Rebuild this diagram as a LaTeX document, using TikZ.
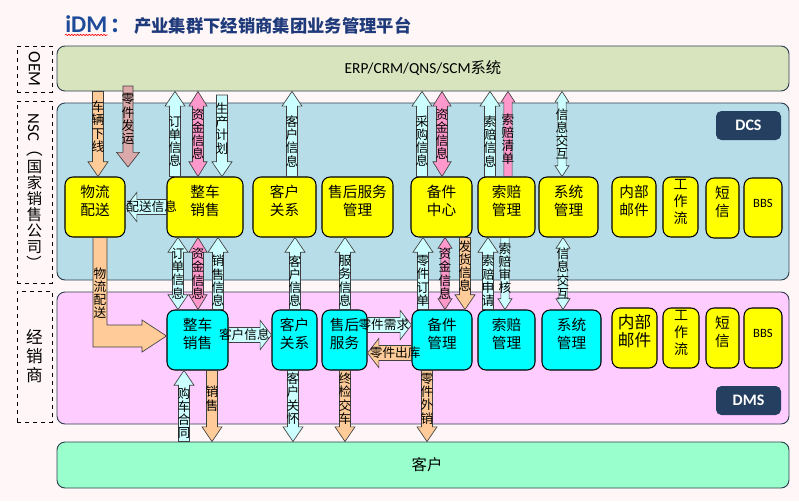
\documentclass[tikz,border=0pt]{standalone}
\usepackage{fontspec}
\usepackage{graphicx}
\setmainfont{Carlito}
\newfontfamily\cjk{Noto Sans CJK SC}
\usetikzlibrary{calc,fit,decorations.pathmorphing}

\definecolor{bgcol}{HTML}{FFF7F7}
\definecolor{oemfill}{HTML}{D7E4BD}
\definecolor{dcsfill}{HTML}{B7DDE8}
\definecolor{dmsfill}{HTML}{FFCCFF}
\definecolor{custfill}{HTML}{99FFCC}
\definecolor{rgnborder}{HTML}{2F3F4F}
\definecolor{badgenavy}{HTML}{243F60}
\definecolor{boxyellow}{HTML}{FFFF00}
\definecolor{boxcyan}{HTML}{00FFFF}
\definecolor{palecyan}{HTML}{CCFFFF}
\definecolor{pinkfill}{HTML}{FF99CC}
\definecolor{peachfill}{HTML}{FFCC99}
\definecolor{rosyfill}{HTML}{DBA9A9}
\definecolor{arrborder}{HTML}{404040}
\definecolor{titleblue}{HTML}{1E4A9A}
\definecolor{titlenavy}{HTML}{1F3A7A}

\newcommand\boxfont{\cjk\fontsize{11}{14}\selectfont}
\newcommand\lblfont{\cjk\fontsize{9.5}{9.9}\selectfont}

\tikzset{bashaft/.store in=\bashaft, bahead/.store in=\bahead, balen/.store in=\balen,
  bashaft=4.1, bahead=7.5, balen=11}

% single block arrow: style, tail, tip, label
\newcommand\sarr[4]{%
 \path[#1] let \p1=#2, \p2=#3, \n1={veclen(\x2-\x1,\y2-\y1)},
   \n2={(\x2-\x1)/\n1}, \n3={(\y2-\y1)/\n1} in
  ({\x1-\bashaft*\n3*1pt},{\y1+\bashaft*\n2*1pt})
  -- ({\x2-\balen*\n2*1pt-\bashaft*\n3*1pt},{\y2-\balen*\n3*1pt+\bashaft*\n2*1pt})
  -- ({\x2-\balen*\n2*1pt-\bahead*\n3*1pt},{\y2-\balen*\n3*1pt+\bahead*\n2*1pt})
  -- (\x2,\y2)
  -- ({\x2-\balen*\n2*1pt+\bahead*\n3*1pt},{\y2-\balen*\n3*1pt-\bahead*\n2*1pt})
  -- ({\x2-\balen*\n2*1pt+\bashaft*\n3*1pt},{\y2-\balen*\n3*1pt-\bashaft*\n2*1pt})
  -- ({\x1+\bashaft*\n3*1pt},{\y1-\bashaft*\n2*1pt}) -- cycle
  node[alabel] at ({(\x1+\x2)/2-\balen*\n2*0.5pt},{(\y1+\y2)/2-\balen*\n3*0.5pt}) {#4};
}
% double block arrow
\newcommand\darr[4]{%
 \path[#1] let \p1=#2, \p2=#3, \n1={veclen(\x2-\x1,\y2-\y1)},
   \n2={(\x2-\x1)/\n1}, \n3={(\y2-\y1)/\n1} in
  (\x1,\y1)
  -- ({\x1+\balen*\n2*1pt-\bahead*\n3*1pt},{\y1+\balen*\n3*1pt+\bahead*\n2*1pt})
  -- ({\x1+\balen*\n2*1pt-\bashaft*\n3*1pt},{\y1+\balen*\n3*1pt+\bashaft*\n2*1pt})
  -- ({\x2-\balen*\n2*1pt-\bashaft*\n3*1pt},{\y2-\balen*\n3*1pt+\bashaft*\n2*1pt})
  -- ({\x2-\balen*\n2*1pt-\bahead*\n3*1pt},{\y2-\balen*\n3*1pt+\bahead*\n2*1pt})
  -- (\x2,\y2)
  -- ({\x2-\balen*\n2*1pt+\bahead*\n3*1pt},{\y2-\balen*\n3*1pt-\bahead*\n2*1pt})
  -- ({\x2-\balen*\n2*1pt+\bashaft*\n3*1pt},{\y2-\balen*\n3*1pt-\bashaft*\n2*1pt})
  -- ({\x1+\balen*\n2*1pt+\bashaft*\n3*1pt},{\y1+\balen*\n3*1pt-\bashaft*\n2*1pt})
  -- ({\x1+\balen*\n2*1pt+\bahead*\n3*1pt},{\y1+\balen*\n3*1pt-\bahead*\n2*1pt})
  -- cycle
  node[alabel] at ({(\x1+\x2)/2},{(\y1+\y2)/2}) {#4};
}

\begin{document}
\begin{tikzpicture}[x=0.75pt,y=-0.75pt,
  region/.style={draw=rgnborder, line width=0.7pt, rounded corners=6pt, inner sep=0pt},
  lbox/.style={draw=black, dashed, line width=0.6pt, inner sep=0pt},
  ybox/.style={draw=black, line width=0.8pt, fill=boxyellow, rounded corners=6pt,
    inner sep=0pt, align=center, font=\boxfont},
  cbox/.style={ybox, fill=boxcyan},
  bbsbox/.style={ybox, font=\fontsize{9.5}{11}\selectfont},
  badge/.style={fill=badgenavy, rounded corners=4pt, inner sep=0pt, text=white,
    font=\bfseries\fontsize{12}{14}\selectfont},
  arr/.style={draw=arrborder, line width=0.5pt},
  paleA/.style={arr, fill=palecyan},
  pinkA/.style={arr, fill=pinkfill},
  peachA/.style={arr, fill=peachfill},
  rosyA/.style={arr, fill=rosyfill},
  thinA/.style={bashaft=3.1, bahead=5.2, balen=8},
  wideA/.style={bashaft=5.6, bahead=11, balen=8.5},
  alabel/.style={text=black, inner sep=0pt, align=center, font=\lblfont}]

\fill[bgcol] (0,0) rectangle (799,501);
\useasboundingbox (0,0) rectangle (799,501);

% title
\node[anchor=base west, inner sep=0pt, text=titleblue, font=\bfseries\fontsize{18}{21}\selectfont] (idm) at (65,32) {iDM};
\node[anchor=base west, inner sep=0pt, text=titleblue, font=\cjk\bfseries\fontsize{15}{18}\selectfont] (colon) at ([xshift=2pt]idm.base east) {：};
\node[anchor=west, inner sep=0pt, text=titlenavy, font=\cjk\bfseries\fontsize{13}{15}\selectfont] (ttl) at (134,26) {产业集群下经销商集团业务管理平台};
\draw[red, line width=0.5pt, decorate, decoration={snake, amplitude=0.45pt, segment length=2.2pt}]
  ([yshift=-2.2pt]idm.base west) -- ([yshift=-2.2pt]idm.base east);

% side labels
\node[lbox, fit={(17,46) (52,92)}] (oeml) {};
\node[font=\fontsize{13}{15}\selectfont, inner sep=0pt] (oemt) at (oeml.center) {\rotatebox[origin=c]{-90}{OEM}};
\node[lbox, fit={(17,101) (52,283)}] (nscl) {};
\node[font=\cjk\fontsize{11.5}{12}\selectfont, inner sep=0pt, align=center] (nsct) at (nscl.center)
  {\rotatebox[origin=c]{-90}{\fontspec{Carlito}\fontsize{12.5}{13}\selectfont NSC\cjk（}\\[1pt]国\\家\\销\\售\\公\\司\\\rotatebox[origin=c]{-90}{）}};
\node[lbox, fit={(17,291) (52,422)}] (jxsl) {};
\node[font=\cjk\fontsize{12.5}{14.3}\selectfont, inner sep=0pt, align=center] (jxst) at (jxsl.center) {经\\销\\商};

% regions
\node[region, fill=oemfill, fit={(57,46) (789,91)}] (oem) {};
\node[font=\fontsize{11.5}{13}\selectfont, inner sep=0pt] (oemtxt) at (oem.center) {ERP/CRM/QNS/SCM{\cjk 系统}};
\node[region, fill=dcsfill, fit={(57,103) (789,280)}] (dcs) {};
\node[region, fill=dmsfill, fit={(57,292) (789,424)}] (dms) {};
\node[region, fill=custfill, fit={(57,442) (789,488)}] (cust) {};
\node[font=\cjk\fontsize{11.5}{13}\selectfont, inner sep=0pt] (custtxt) at ([xshift=3pt]cust.center) {客户};

\node[badge, fit={(716,111) (781,140)}] (dcsb) {};
\node[text=white, font=\bfseries\fontsize{12}{14}\selectfont, inner sep=0pt] at (dcsb.center) {DCS};
\node[badge, fit={(716,386) (781,415)}] (dmsb) {};
\node[text=white, font=\bfseries\fontsize{12}{14}\selectfont, inner sep=0pt] at (dmsb.center) {DMS};

% DCS boxes
\node[ybox, fit={(65,177) (125,237)}] (cwl) {物流\\配送};
\node[ybox, fit={(167,177) (243,237)}] (czc) {整车\\销售};
\node[ybox, fit={(253,177) (316,237)}] (ckh) {客户\\关系};
\node[ybox, fit={(322,177) (393,237)}] (csh) {售后服务\\管理};
\node[ybox, fit={(411,177) (472,237)}] (cbj) {备件\\中心};
\node[ybox, fit={(478,177) (535,237)}] (csp) {索赔\\管理};
\node[ybox, fit={(539,177) (598,237)}] (cxt) {系统\\管理};
\node[ybox, fit={(612,177) (656,237)}] (cnb) {内部\\邮件};
\node[ybox, fit={(663,177) (698,237)}, font=\cjk\fontsize{10.5}{12.5}\selectfont] (cgz) {工\\作\\流};
\node[ybox, fit={(706,178) (739,238)}] (cdx) {短\\信};
\node[bbsbox, fit={(744,178) (782,237)}] (cbbs) {BBS};

% DMS boxes
\node[cbox, fit={(167,310) (228,370)}] (mzc) {整车\\销售};
\node[cbox, fit={(272,310) (317,370)}] (mkh) {客户\\关系};
\node[cbox, fit={(322,310) (367,370)}] (msh) {售后\\服务};
\node[cbox, fit={(412,310) (472,370)}] (mbj) {备件\\管理};
\node[cbox, fit={(478,310) (535,370)}] (msp) {索赔\\管理};
\node[cbox, fit={(542,310) (601,370)}] (mxt) {系统\\管理};
\node[ybox, fit={(612,308) (657,368)}, font=\cjk\fontsize{12.5}{14}\selectfont] (mnb) {内部\\邮件};
\node[ybox, fit={(663,308) (699,368)}, font=\cjk\fontsize{10.5}{12.5}\selectfont] (mgz) {工\\作\\流};
\node[ybox, fit={(706,308) (739,368)}] (mdx) {短\\信};
\node[bbsbox, fit={(744,308) (782,368)}] (mbbs) {BBS};

% ---- arrows: OEM <-> DCS ----
\sarr{peachA}{(98,0 |- oem.south)}{(98,0 |- cwl.north)}{车\\辆\\下\\线}
\coordinate (lfa) at (128,86);
\coordinate (lfb) at (128,167);
\sarr{rosyA, bahead=8.6, bashaft=3.8}{(lfa)}{(lfb)}{零\\件\\发\\运}
\sarr{paleA}{(175,0 |- czc.north)}{(175,0 |- oem.south)}{订\\单\\信\\息}
\darr{pinkA, bahead=6.8}{(198,0 |- czc.north)}{(198,0 |- oem.south)}{资\\金\\信\\息}
\coordinate (scj) at (222,95);
\sarr{paleA}{(scj)}{(222,0 |- czc.north)}{生\\产\\计\\划}
\sarr{paleA}{(292,0 |- ckh.north)}{(292,0 |- oem.south)}{客\\户\\信\\息}
\sarr{paleA}{(422,0 |- cbj.north)}{(422,0 |- oem.south)}{采\\购\\信\\息}
\darr{pinkA, bahead=6.8}{(442,0 |- cbj.north)}{(442,0 |- oem.south)}{资\\金\\信\\息}
\sarr{paleA}{(490,0 |- csp.north)}{(490,0 |- oem.south)}{索\\赔\\信\\息}
\sarr{pinkA, thinA}{(508,0 |- csp.north)}{(508,0 |- oem.south)}{索\\赔\\清\\单}
\darr{paleA, thinA}{(562,0 |- cxt.north)}{(562,0 |- oem.south)}{信\\息\\交\\互}
\sarr{paleA, wideA}{(czc.west)}{(cwl.east)}{配送信息}

% ---- arrows: DCS <-> DMS ----
\draw[peachA] (93,0 |- cwl.south) -- (93,347) -- (142,347) -- (142,352) -- (mzc.west |- 0,336)
  -- (142,320) -- (142,325) -- (107,325) -- (107,0 |- cwl.south) -- cycle;
\node[alabel] (lbwl) at (100,293) {物\\流\\配\\送};
\darr{paleA}{(178,0 |- czc.south)}{(178,0 |- mzc.north)}{订\\单\\信\\息}
\darr{pinkA, bahead=6.8}{(198,0 |- czc.south)}{(198,0 |- mzc.north)}{资\\金\\信\\息}
\sarr{paleA}{(218,0 |- mzc.north)}{(218,0 |- czc.south)}{销\\售\\信\\息}
\sarr{paleA}{(295,0 |- mkh.north)}{(295,0 |- ckh.south)}{客\\户\\信\\息}
\sarr{paleA}{(345,0 |- msh.north)}{(345,0 |- csh.south)}{服\\务\\信\\息}
\sarr{paleA}{(423,0 |- mbj.north)}{(423,0 |- cbj.south)}{零\\件\\订\\单}
\darr{pinkA, thinA}{(445,0 |- cbj.south)}{(445,0 |- mbj.north)}{资\\金\\信\\息}
\sarr{peachA}{(465,0 |- cbj.south)}{(465,0 |- mbj.north)}{发\\货\\信\\息}
\sarr{paleA}{(488,0 |- msp.north)}{(488,0 |- csp.south)}{索\\赔\\申\\请}
\sarr{paleA, thinA}{(505,0 |- csp.south)}{(505,0 |- msp.north)}{索\\赔\\审\\核}
\darr{paleA, thinA}{(563,0 |- cxt.south)}{(563,0 |- mxt.north)}{信\\息\\交\\互}

% ---- arrows inside DMS ----
\sarr{paleA, wideA}{(mzc.east |- 0,335)}{(mkh.west |- 0,335)}{客户信息}
\sarr{paleA, wideA}{(msh.east |- 0,325)}{(mbj.west |- 0,325)}{零件需求}
\sarr{peachA, wideA}{(mbj.west |- 0,353)}{(msh.east |- 0,353)}{零件出库}

% ---- arrows: DMS <-> customer ----
\sarr{paleA}{(184,0 |- cust.north)}{(184,0 |- mzc.south)}{购\\车\\合\\同}
\sarr{peachA}{(212,0 |- mzc.south)}{(212,0 |- cust.north)}{销\\售}
\sarr{paleA}{(293,0 |- mkh.south)}{(293,0 |- cust.north)}{客\\户\\关\\怀}
\sarr{peachA}{(345,0 |- msh.south)}{(345,0 |- cust.north)}{终\\检\\交\\车}
\sarr{peachA}{(427,0 |- mbj.south)}{(427,0 |- cust.north)}{零\\件\\外\\销}

\end{tikzpicture}
\end{document}
